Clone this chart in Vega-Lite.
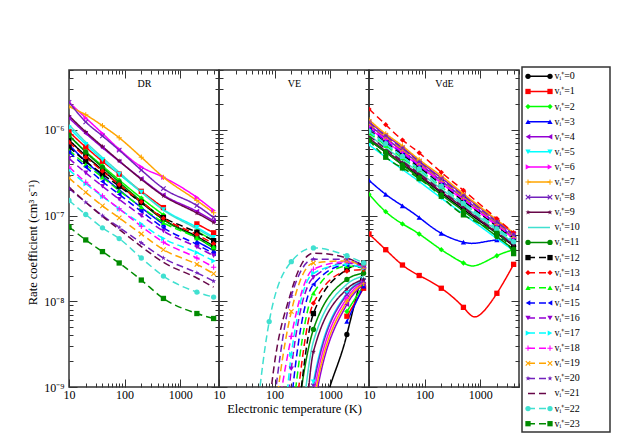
{
"$schema": "https://vega.github.io/schema/vega-lite/v6.json",
"padding": {"left": 26, "top": 66, "right": 5, "bottom": 5},
"background": "white",
"spacing": 0,
"config": {
  "view": {"stroke": "#333", "strokeWidth": 1.5},
  "font": "Liberation Serif",
  "axis": {"domain": false, "grid": false, "tickColor": "#333", "tickWidth": 1, "labelFont": "Liberation Serif", "titleFont": "Liberation Serif", "labelColor": "#000", "titleColor": "#000", "titleFontWeight": "normal", "labelFlush": false, "labelOverlap": false}
},
"datasets": {
"k": [
{"v":0,"T":10,"dr":7.6e-7,"ve":1e-22,"vde":7.6e-7},{"v":0,"T":20,"dr":5.0e-7,"ve":1e-20,"vde":5.5e-7},{"v":0,"T":40,"dr":3.4e-7,"ve":1e-18,"vde":3.95e-7},{"v":0,"T":80,"dr":2.3e-7,"ve":1e-16,"vde":2.9e-7},{"v":0,"T":200,"dr":1.42e-7,"ve":1e-14,"vde":1.84e-7},{"v":0,"T":500,"dr":9.0e-8,"ve":1e-10,"vde":1.18e-7},{"v":0,"T":2000,"dr":5.7e-8,"ve":4.1e-9,"vde":6.2e-8},{"v":0,"T":4000,"dr":4.4e-8,"ve":2.45e-8,"vde":4.4e-8},
{"v":1,"T":10,"dr":9.5e-7,"ve":1e-22,"vde":6.1e-8},{"v":1,"T":20,"dr":6.3e-7,"ve":1e-20,"vde":4.0e-8},{"v":1,"T":40,"dr":4.3e-7,"ve":1e-18,"vde":2.65e-8},{"v":1,"T":80,"dr":3.05e-7,"ve":1e-16,"vde":2.0e-8},{"v":1,"T":200,"dr":1.92e-7,"ve":1e-14,"vde":1.42e-8},{"v":1,"T":500,"dr":1.24e-7,"ve":1.9e-10,"vde":8.5e-9},{"v":1,"T":900,"vde":6.7e-9},{"v":1,"T":2000,"dr":8.0e-8,"ve":6.7e-9,"vde":1.24e-8},{"v":1,"T":4000,"dr":6.3e-8,"ve":1.42e-8,"vde":2.7e-8},
{"v":2,"T":10,"dr":8.5e-7,"ve":1e-21,"vde":1.77e-7},{"v":2,"T":20,"dr":5.6e-7,"ve":1e-19,"vde":1.11e-7},{"v":2,"T":40,"dr":3.8e-7,"ve":1e-17,"vde":8.0e-8},{"v":2,"T":80,"dr":2.6e-7,"ve":1e-15,"vde":6.1e-8},{"v":2,"T":200,"dr":1.6e-7,"ve":1e-13,"vde":4.0e-8},{"v":2,"T":500,"dr":1.02e-7,"ve":3.8e-10,"vde":2.8e-8},{"v":2,"T":900,"vde":2.65e-8},{"v":2,"T":2000,"dr":6.6e-8,"ve":7.6e-9,"vde":3.4e-8},{"v":2,"T":4000,"dr":5.1e-8,"ve":1.54e-8,"vde":4.0e-8},
{"v":3,"T":10,"dr":6.7e-7,"ve":1e-21,"vde":2.58e-7},{"v":3,"T":20,"dr":4.3e-7,"ve":1e-19,"vde":1.77e-7},{"v":3,"T":40,"dr":2.9e-7,"ve":1e-17,"vde":1.3e-7},{"v":3,"T":80,"dr":2.0e-7,"ve":1e-15,"vde":9.5e-8},{"v":3,"T":200,"dr":1.24e-7,"ve":1e-13,"vde":6.2e-8},{"v":3,"T":500,"dr":7.9e-8,"ve":2.5e-10,"vde":4.9e-8},{"v":3,"T":900,"vde":4.8e-8},{"v":3,"T":2000,"dr":5.0e-8,"ve":5.8e-9,"vde":5.2e-8},{"v":3,"T":4000,"dr":3.9e-8,"ve":1.5e-8,"vde":5.2e-8},
{"v":4,"T":10,"dr":1.38e-6,"ve":1e-21,"vde":1.24e-6},{"v":4,"T":20,"dr":9.1e-7,"ve":1e-19,"vde":8.7e-7},{"v":4,"T":40,"dr":6.2e-7,"ve":1e-17,"vde":6.2e-7},{"v":4,"T":80,"dr":4.3e-7,"ve":1e-15,"vde":4.35e-7},{"v":4,"T":200,"dr":2.7e-7,"ve":1e-13,"vde":2.75e-7},{"v":4,"T":500,"dr":1.74e-7,"ve":5.0e-10,"vde":1.75e-7},{"v":4,"T":2000,"dr":1.12e-7,"ve":9.2e-9,"vde":8.7e-8},{"v":4,"T":4000,"dr":8.7e-8,"ve":1.58e-8,"vde":6.2e-8},
{"v":5,"T":10,"dr":1.06e-6,"ve":1e-20,"vde":6.7e-7},{"v":5,"T":20,"dr":6.8e-7,"ve":1e-18,"vde":4.8e-7},{"v":5,"T":40,"dr":4.5e-7,"ve":1e-16,"vde":3.45e-7},{"v":5,"T":80,"dr":3.05e-7,"ve":1e-14,"vde":2.5e-7},{"v":5,"T":200,"dr":1.88e-7,"ve":1e-12,"vde":1.6e-7},{"v":5,"T":500,"dr":1.18e-7,"ve":1.15e-9,"vde":1.04e-7},{"v":5,"T":2000,"dr":7.3e-8,"ve":1.24e-8,"vde":5.4e-8},{"v":5,"T":4000,"dr":5.6e-8,"ve":1.77e-8,"vde":3.9e-8},
{"v":6,"T":10,"dr":2.1e-6,"ve":1e-21,"vde":1.06e-6},{"v":6,"T":20,"dr":1.38e-6,"ve":1e-19,"vde":7.4e-7},{"v":6,"T":40,"dr":9.1e-7,"ve":1e-17,"vde":5.3e-7},{"v":6,"T":80,"dr":5.95e-7,"ve":1e-15,"vde":3.8e-7},{"v":6,"T":200,"dr":3.7e-7,"ve":1e-13,"vde":2.4e-7},{"v":6,"T":500,"dr":2.8e-7,"ve":7.9e-10,"vde":1.5e-7},{"v":6,"T":2000,"dr":1.63e-7,"ve":1.09e-8,"vde":7.6e-8},{"v":6,"T":4000,"dr":1.15e-7,"ve":1.67e-8,"vde":5.4e-8},
{"v":7,"T":10,"dr":1.87e-6,"ve":1e-21,"vde":1.31e-6},{"v":7,"T":20,"dr":1.5e-6,"ve":1e-19,"vde":9.0e-7},{"v":7,"T":40,"dr":1.12e-6,"ve":1e-17,"vde":6.5e-7},{"v":7,"T":80,"dr":8.1e-7,"ve":1e-15,"vde":4.5e-7},{"v":7,"T":200,"dr":4.8e-7,"ve":1e-13,"vde":2.9e-7},{"v":7,"T":500,"dr":2.8e-7,"ve":6.2e-10,"vde":1.8e-7},{"v":7,"T":2000,"dr":1.5e-7,"ve":1.0e-8,"vde":8.9e-8},{"v":7,"T":4000,"dr":1.08e-7,"ve":1.62e-8,"vde":6.3e-8},
{"v":8,"T":10,"dr":2.1e-6,"ve":1e-20,"vde":1.15e-6},{"v":8,"T":20,"dr":1.24e-6,"ve":1e-18,"vde":8.0e-7},{"v":8,"T":40,"dr":8.5e-7,"ve":1e-16,"vde":5.7e-7},{"v":8,"T":80,"dr":5.8e-7,"ve":1e-14,"vde":4.05e-7},{"v":8,"T":200,"dr":3.4e-7,"ve":1e-12,"vde":2.55e-7},{"v":8,"T":500,"dr":2.07e-7,"ve":1.03e-9,"vde":1.6e-7},{"v":8,"T":2000,"dr":1.31e-7,"ve":1.2e-8,"vde":8.0e-8},{"v":8,"T":4000,"dr":9.5e-8,"ve":1.72e-8,"vde":5.6e-8},
{"v":9,"T":10,"dr":1.46e-6,"ve":1e-20,"vde":8.0e-7},{"v":9,"T":20,"dr":9.5e-7,"ve":1e-18,"vde":5.7e-7},{"v":9,"T":40,"dr":6.4e-7,"ve":1e-16,"vde":4.15e-7},{"v":9,"T":80,"dr":4.35e-7,"ve":1e-14,"vde":2.98e-7},{"v":9,"T":200,"dr":2.65e-7,"ve":1e-12,"vde":1.9e-7},{"v":9,"T":500,"dr":1.7e-7,"ve":2.58e-9,"vde":1.24e-7},{"v":9,"T":2000,"dr":1.07e-7,"ve":1.39e-8,"vde":6.3e-8},{"v":9,"T":4000,"dr":8.3e-8,"ve":1.8e-8,"vde":4.6e-8},
{"v":10,"T":10,"dr":1.15e-6,"ve":1e-20,"vde":8.7e-7},{"v":10,"T":20,"dr":7.2e-7,"ve":1e-18,"vde":6.2e-7},{"v":10,"T":40,"dr":4.75e-7,"ve":1e-16,"vde":4.45e-7},{"v":10,"T":80,"dr":3.2e-7,"ve":1e-14,"vde":3.2e-7},{"v":10,"T":200,"dr":1.88e-7,"ve":1.6e-11,"vde":2.05e-7},{"v":10,"T":500,"dr":1.16e-7,"ve":3.4e-9,"vde":1.31e-7},{"v":10,"T":2000,"dr":7.0e-8,"ve":1.58e-8,"vde":6.7e-8},{"v":10,"T":4000,"dr":5.4e-8,"ve":1.97e-8,"vde":4.8e-8},
{"v":11,"T":10,"dr":8.7e-7,"ve":1e-19,"vde":7.6e-7},{"v":11,"T":20,"dr":5.5e-7,"ve":1e-17,"vde":5.5e-7},{"v":11,"T":40,"dr":3.65e-7,"ve":1e-15,"vde":3.9e-7},{"v":11,"T":80,"dr":2.45e-7,"ve":1e-13,"vde":2.78e-7},{"v":11,"T":200,"dr":1.47e-7,"ve":1.1e-10,"vde":1.75e-7},{"v":11,"T":500,"dr":9.0e-8,"ve":4.7e-9,"vde":1.13e-7},{"v":11,"T":2000,"dr":5.5e-8,"ve":1.8e-8,"vde":5.7e-8},{"v":11,"T":4000,"dr":4.2e-8,"ve":2.13e-8,"vde":4.05e-8},
{"v":12,"T":10,"dr":6.3e-7,"ve":1e-20,"vde":1.0e-6},{"v":12,"T":20,"dr":4.3e-7,"ve":1e-18,"vde":7.1e-7},{"v":12,"T":40,"dr":3.05e-7,"ve":1e-16,"vde":5.1e-7},{"v":12,"T":80,"dr":2.2e-7,"ve":1e-14,"vde":3.65e-7},{"v":12,"T":200,"dr":1.42e-7,"ve":5.8e-11,"vde":2.3e-7},{"v":12,"T":500,"dr":9.5e-8,"ve":7.2e-9,"vde":1.48e-7},{"v":12,"T":2000,"dr":6.4e-8,"ve":2.35e-8,"vde":7.5e-8},{"v":12,"T":4000,"dr":5.1e-8,"ve":2.8e-8,"vde":5.4e-8},
{"v":13,"T":10,"dr":7.2e-7,"ve":1e-19,"vde":1.75e-6},{"v":13,"T":20,"dr":4.8e-7,"ve":1e-17,"vde":1.15e-6},{"v":13,"T":40,"dr":3.3e-7,"ve":1e-15,"vde":7.6e-7},{"v":13,"T":80,"dr":2.3e-7,"ve":1e-13,"vde":5.4e-7},{"v":13,"T":200,"dr":1.45e-7,"ve":1.55e-10,"vde":3.2e-7},{"v":13,"T":500,"dr":9.3e-8,"ve":9.5e-9,"vde":1.97e-7},{"v":13,"T":2000,"dr":6.0e-8,"ve":2.25e-8,"vde":9.2e-8},{"v":13,"T":4000,"dr":4.7e-8,"ve":2.35e-8,"vde":6.3e-8},
{"v":14,"T":10,"dr":5.8e-7,"ve":1e-19,"vde":9.2e-7},{"v":14,"T":20,"dr":3.95e-7,"ve":1e-17,"vde":6.6e-7},{"v":14,"T":40,"dr":2.8e-7,"ve":1e-15,"vde":4.7e-7},{"v":14,"T":80,"dr":1.95e-7,"ve":1e-13,"vde":3.4e-7},{"v":14,"T":200,"dr":1.26e-7,"ve":3.2e-10,"vde":2.17e-7},{"v":14,"T":500,"dr":8.3e-8,"ve":1.24e-8,"vde":1.39e-7},{"v":14,"T":2000,"dr":5.5e-8,"ve":2.58e-8,"vde":7.1e-8},{"v":14,"T":4000,"dr":4.3e-8,"ve":2.45e-8,"vde":5.1e-8},
{"v":15,"T":10,"dr":5.5e-7,"ve":1e-19,"vde":1.06e-6},{"v":15,"T":20,"dr":3.7e-7,"ve":1e-17,"vde":7.5e-7},{"v":15,"T":40,"dr":2.5e-7,"ve":1e-15,"vde":5.4e-7},{"v":15,"T":80,"dr":1.77e-7,"ve":1e-13,"vde":3.85e-7},{"v":15,"T":200,"dr":1.12e-7,"ve":6.5e-10,"vde":2.45e-7},{"v":15,"T":500,"dr":7.2e-8,"ve":1.58e-8,"vde":1.56e-7},{"v":15,"T":2000,"dr":4.6e-8,"ve":2.65e-8,"vde":7.9e-8},{"v":15,"T":4000,"dr":3.6e-8,"ve":2.45e-8,"vde":5.6e-8},
{"v":16,"T":10,"dr":4.65e-7,"ve":1e-18,"vde":1.12e-6},{"v":16,"T":20,"dr":3.15e-7,"ve":1e-16,"vde":7.9e-7},{"v":16,"T":40,"dr":2.2e-7,"ve":1e-14,"vde":5.7e-7},{"v":16,"T":80,"dr":1.55e-7,"ve":3.2e-13,"vde":4.05e-7},{"v":16,"T":200,"dr":1.0e-7,"ve":1.63e-9,"vde":2.58e-7},{"v":16,"T":500,"dr":6.6e-8,"ve":1.9e-8,"vde":1.65e-7},{"v":16,"T":2000,"dr":4.3e-8,"ve":2.8e-8,"vde":8.3e-8},{"v":16,"T":4000,"dr":3.4e-8,"ve":2.5e-8,"vde":5.95e-8},
{"v":17,"T":10,"dr":3.4e-7,"ve":1e-18,"vde":9.5e-7},{"v":17,"T":20,"dr":2.35e-7,"ve":1e-16,"vde":6.8e-7},{"v":17,"T":40,"dr":1.67e-7,"ve":1e-14,"vde":4.85e-7},{"v":17,"T":80,"dr":1.2e-7,"ve":1e-12,"vde":3.45e-7},{"v":17,"T":200,"dr":8.0e-8,"ve":2.4e-9,"vde":2.2e-7},{"v":17,"T":500,"dr":5.4e-8,"ve":2.13e-8,"vde":1.4e-7},{"v":17,"T":2000,"dr":3.7e-8,"ve":2.7e-8,"vde":7.1e-8},{"v":17,"T":4000,"dr":2.96e-8,"ve":2.45e-8,"vde":5.1e-8},
{"v":18,"T":10,"dr":3.7e-7,"ve":1e-17,"vde":1.09e-6},{"v":18,"T":20,"dr":2.45e-7,"ve":1e-15,"vde":7.7e-7},{"v":18,"T":40,"dr":1.7e-7,"ve":1e-13,"vde":5.5e-7},{"v":18,"T":80,"dr":1.2e-7,"ve":5.6e-11,"vde":3.9e-7},{"v":18,"T":200,"dr":7.5e-8,"ve":3.9e-9,"vde":2.45e-7},{"v":18,"T":500,"dr":4.9e-8,"ve":2.37e-8,"vde":1.55e-7},{"v":18,"T":2000,"dr":3.2e-8,"ve":2.9e-8,"vde":7.8e-8},{"v":18,"T":4000,"dr":2.5e-8,"ve":2.5e-8,"vde":5.5e-8},
{"v":19,"T":10,"dr":2.75e-7,"ve":1e-17,"vde":1.18e-6},{"v":19,"T":20,"dr":1.87e-7,"ve":1e-15,"vde":8.3e-7},{"v":19,"T":40,"dr":1.3e-7,"ve":1e-13,"vde":5.9e-7},{"v":19,"T":80,"dr":9.4e-8,"ve":8.7e-11,"vde":4.15e-7},{"v":19,"T":200,"dr":6.1e-8,"ve":7.6e-9,"vde":2.6e-7},{"v":19,"T":500,"dr":4.0e-8,"ve":2.8e-8,"vde":1.65e-7},{"v":19,"T":2000,"dr":2.7e-8,"ve":2.96e-8,"vde":8.2e-8},{"v":19,"T":4000,"dr":2.1e-8,"ve":2.5e-8,"vde":5.8e-8},
{"v":20,"T":10,"dr":2.07e-7,"ve":1e-16,"vde":1.22e-6},{"v":20,"T":20,"dr":1.43e-7,"ve":1e-14,"vde":8.5e-7},{"v":20,"T":40,"dr":1.0e-7,"ve":1e-12,"vde":6.1e-7},{"v":20,"T":80,"dr":7.3e-8,"ve":1.9e-10,"vde":4.25e-7},{"v":20,"T":200,"dr":4.8e-8,"ve":1.15e-8,"vde":2.67e-7},{"v":20,"T":500,"dr":3.2e-8,"ve":3.1e-8,"vde":1.7e-7},{"v":20,"T":2000,"dr":2.15e-8,"ve":3.1e-8,"vde":8.4e-8},{"v":20,"T":4000,"dr":1.72e-8,"ve":2.58e-8,"vde":5.95e-8},
{"v":21,"T":10,"dr":2.15e-7,"ve":1e-16,"vde":8.5e-7},{"v":21,"T":20,"dr":1.43e-7,"ve":1e-14,"vde":6.0e-7},{"v":21,"T":40,"dr":9.8e-8,"ve":1e-12,"vde":4.3e-7},{"v":21,"T":80,"dr":6.9e-8,"ve":5.6e-10,"vde":3.1e-7},{"v":21,"T":200,"dr":4.35e-8,"ve":1.31e-8,"vde":1.97e-7},{"v":21,"T":500,"dr":2.85e-8,"ve":3.65e-8,"vde":1.26e-7},{"v":21,"T":2000,"dr":1.87e-8,"ve":3.2e-8,"vde":6.4e-8},{"v":21,"T":4000,"dr":1.46e-8,"ve":2.58e-8,"vde":4.6e-8},
{"v":22,"T":10,"dr":1.5e-7,"ve":1e-15,"vde":9.7e-7},{"v":22,"T":20,"dr":1.03e-7,"ve":1e-12,"vde":6.9e-7},{"v":22,"T":40,"dr":7.2e-8,"ve":1.55e-10,"vde":4.9e-7},{"v":22,"T":80,"dr":5.4e-8,"ve":5.8e-9,"vde":3.5e-7},{"v":22,"T":200,"dr":3.2e-8,"ve":2.9e-8,"vde":2.2e-7},{"v":22,"T":500,"dr":1.97e-8,"ve":4.2e-8,"vde":1.39e-7},{"v":22,"T":2000,"dr":1.28e-8,"ve":3.4e-8,"vde":7.0e-8},{"v":22,"T":4000,"dr":1.12e-8,"ve":2.8e-8,"vde":4.95e-8},
{"v":23,"T":10,"dr":7.4e-8,"ve":1e-15,"vde":7.6e-7},{"v":23,"T":20,"dr":5.2e-8,"ve":1e-15,"vde":4.8e-7},{"v":23,"T":40,"dr":3.8e-8,"ve":1e-15,"vde":3.6e-7},{"v":23,"T":80,"dr":2.8e-8,"ve":1e-15,"vde":2.7e-7},{"v":23,"T":200,"dr":1.77e-8,"ve":1e-15,"vde":1.68e-7},{"v":23,"T":500,"dr":1.08e-8,"ve":1e-15,"vde":1.02e-7},{"v":23,"T":2000,"dr":7.2e-9,"ve":1e-15,"vde":6.2e-8},{"v":23,"T":4000,"dr":6.3e-9,"ve":1e-15,"vde":3.6e-8}
],
"leg": [
{"v":0,"label":"vᵢ⁺=0"},{"v":1,"label":"vᵢ⁺=1"},{"v":2,"label":"vᵢ⁺=2"},{"v":3,"label":"vᵢ⁺=3"},{"v":4,"label":"vᵢ⁺=4"},{"v":5,"label":"vᵢ⁺=5"},{"v":6,"label":"vᵢ⁺=6"},{"v":7,"label":"vᵢ⁺=7"},{"v":8,"label":"vᵢ⁺=8"},{"v":9,"label":"vᵢ⁺=9"},{"v":10,"label":"vᵢ⁺=10"},{"v":11,"label":"vᵢ⁺=11"},{"v":12,"label":"vᵢ⁺=12"},{"v":13,"label":"vᵢ⁺=13"},{"v":14,"label":"vᵢ⁺=14"},{"v":15,"label":"vᵢ⁺=15"},{"v":16,"label":"vᵢ⁺=16"},{"v":17,"label":"vᵢ⁺=17"},{"v":18,"label":"vᵢ⁺=18"},{"v":19,"label":"vᵢ⁺=19"},{"v":20,"label":"vᵢ⁺=20"},{"v":21,"label":"vᵢ⁺=21"},{"v":22,"label":"vᵢ⁺=22"},{"v":23,"label":"vᵢ⁺=23"}
]
},
"hconcat": [
{
"spacing": 0,
"vconcat": [
{"width": 450, "height": 1, "view": {"stroke": null}, "data": {"values": [{}]}, "mark": {"type": "point", "size": 0, "opacity": 0, "strokeWidth": 0}},
{
"bounds": "flush",
"spacing": 0,
"hconcat": [
{
"width": 150, "height": 317,
"data": {"name": "k"},
"resolve": {"axis": {"x": "independent", "y": "independent"}},
"layer": [
{"mark": {"type": "line", "strokeWidth": 1.5, "clip": true, "interpolate": "monotone"},
 "encoding": {
  "x": {"field": "T", "type": "quantitative", "scale": {"type": "log", "domain": [10, 5000], "nice": false}, "axis": {"orient": "bottom", "values": [10, 100, 1000], "format": "d", "tickSize": -8, "labelPadding": 10, "labelFontSize": 12, "title": null}},
  "y": {"field": "dr", "type": "quantitative", "scale": {"type": "log", "domain": [1e-9, 5e-6], "nice": false}, "axis": {"orient": "left", "values": [1e-9, 1e-8, 1e-7, 1e-6], "labelExpr": "datum.value < 5e-9 ? '10⁻⁹' : datum.value < 5e-8 ? '10⁻⁸' : datum.value < 5e-7 ? '10⁻⁷' : '10⁻⁶'", "tickSize": -8, "labelPadding": 13, "labelFontSize": 12, "title": "Rate coefficient (cm³ s⁻¹)", "titleFontSize": 12.5, "titlePadding": 4, "titleY": 172}},
  "color": {"field": "v", "type": "nominal", "legend": null, "scale": {"domain": [0,1,2,3,4,5,6,7,8,9,10,11,12,13,14,15,16,17,18,19,20,21,22,23], "range": ["#000000","#ff0000","#00ff00","#0000ff","#9400d3","#00ffff","#ff00ff","#ffa500","#7221bc","#670748","#40e0d0","#008b00","#000000","#ff0000","#00ff00","#0000ff","#9400d3","#00ffff","#ff00ff","#ffa500","#7221bc","#670748","#40e0d0","#008b00"]}},
  "strokeDash": {"field": "v", "type": "nominal", "legend": null, "scale": {"domain": [0,1,2,3,4,5,6,7,8,9,10,11,12,13,14,15,16,17,18,19,20,21,22,23], "range": [[1,0],[1,0],[1,0],[1,0],[1,0],[1,0],[1,0],[1,0],[1,0],[1,0],[1,0],[1,0],[7,4],[7,4],[7,4],[7,4],[7,4],[7,4],[7,4],[7,4],[7,4],[7,4],[7,4],[7,4]]}}
 }},
{"transform": [{"filter": "datum.v != 10 && datum.v != 21 && datum.T != 900"}],
 "mark": {"type": "point", "filled": true, "size": 28, "opacity": 1, "clip": true},
 "encoding": {
  "x": {"field": "T", "type": "quantitative", "axis": {"orient": "top", "values": [10, 100, 1000], "labels": false, "tickSize": -8, "title": "DR", "titlePadding": -19, "titleFontSize": 10}},
  "y": {"field": "dr", "type": "quantitative", "axis": {"orient": "right", "values": [1e-9, 1e-8, 1e-7, 1e-6], "labels": false, "tickSize": -8, "title": null}},
  "color": {"field": "v", "type": "nominal", "legend": null},
  "shape": {"field": "v", "type": "nominal", "legend": null, "scale": {"domain": [0,1,2,3,4,5,6,7,8,9,10,11,12,13,14,15,16,17,18,19,20,21,22,23], "range": ["circle","square","diamond","triangle-up","triangle-left","triangle-down","triangle-right","M-1,-0.2H-0.2V-1H0.2V-0.2H1V0.2H0.2V1H-0.2V0.2H-1Z","M-1,-0.7L-0.7,-1L0,-0.3L0.7,-1L1,-0.7L0.3,0L1,0.7L0.7,1L0,0.3L-0.7,1L-1,0.7L-0.3,0Z","M0,-1L0.24,-0.33L0.95,-0.31L0.38,0.12L0.59,0.81L0,0.4L-0.59,0.81L-0.38,0.12L-0.95,-0.31L-0.24,-0.33Z","circle","circle","square","diamond","triangle-up","triangle-left","triangle-down","triangle-right","M-1,-0.2H-0.2V-1H0.2V-0.2H1V0.2H0.2V1H-0.2V0.2H-1Z","M-1,-0.7L-0.7,-1L0,-0.3L0.7,-1L1,-0.7L0.3,0L1,0.7L0.7,1L0,0.3L-0.7,1L-1,0.7L-0.3,0Z","M0,-1L0.24,-0.33L0.95,-0.31L0.38,0.12L0.59,0.81L0,0.4L-0.59,0.81L-0.38,0.12L-0.95,-0.31L-0.24,-0.33Z","circle","circle","square"]}}
 }},
{"mark": {"type": "point", "opacity": 0},
 "encoding": {
  "x": {"field": "T", "type": "quantitative", "axis": {"orient": "bottom", "values": [20,30,40,50,60,70,80,90,200,300,400,500,600,700,800,900,2000,3000,4000,5000], "labels": false, "tickSize": -4, "title": null}},
  "y": {"field": "dr", "type": "quantitative", "axis": {"orient": "left", "values": [2e-9,3e-9,4e-9,5e-9,6e-9,7e-9,8e-9,9e-9,2e-8,3e-8,4e-8,5e-8,6e-8,7e-8,8e-8,9e-8,2e-7,3e-7,4e-7,5e-7,6e-7,7e-7,8e-7,9e-7,2e-6,3e-6,4e-6,5e-6], "labels": false, "tickSize": -4, "title": null}}
 }},
{"mark": {"type": "point", "opacity": 0},
 "encoding": {
  "x": {"field": "T", "type": "quantitative", "axis": {"orient": "top", "values": [20,30,40,50,60,70,80,90,200,300,400,500,600,700,800,900,2000,3000,4000,5000], "labels": false, "tickSize": -4, "title": null}},
  "y": {"field": "dr", "type": "quantitative", "axis": {"orient": "right", "values": [2e-9,3e-9,4e-9,5e-9,6e-9,7e-9,8e-9,9e-9,2e-8,3e-8,4e-8,5e-8,6e-8,7e-8,8e-8,9e-8,2e-7,3e-7,4e-7,5e-7,6e-7,7e-7,8e-7,9e-7,2e-6,3e-6,4e-6,5e-6], "labels": false, "tickSize": -4, "title": null}}
 }}
]
},
{
"width": 150, "height": 317,
"data": {"name": "k"},
"resolve": {"axis": {"x": "independent", "y": "independent"}},
"layer": [
{"mark": {"type": "line", "strokeWidth": 1.5, "clip": true, "interpolate": "monotone"},
 "encoding": {
  "x": {"field": "T", "type": "quantitative", "scale": {"type": "log", "domain": [10, 5000], "nice": false}, "axis": {"orient": "bottom", "values": [10, 100, 1000], "format": "d", "tickSize": -8, "labelPadding": 10, "labelFontSize": 12, "title": "Electronic temperature (K)", "titleFontSize": 12.5, "titlePadding": 2}},
  "y": {"field": "ve", "type": "quantitative", "scale": {"type": "log", "domain": [1e-9, 5e-6], "nice": false}, "axis": {"orient": "left", "values": [1e-9, 1e-8, 1e-7, 1e-6], "labels": false, "tickSize": -8, "title": null}},
  "color": {"field": "v", "type": "nominal", "legend": null},
  "strokeDash": {"field": "v", "type": "nominal", "legend": null}
 }},
{"transform": [{"filter": "datum.v != 10 && datum.v != 21 && datum.T != 900"}],
 "mark": {"type": "point", "filled": true, "size": 28, "opacity": 1, "clip": true},
 "encoding": {
  "x": {"field": "T", "type": "quantitative", "axis": {"orient": "top", "values": [10, 100, 1000], "labels": false, "tickSize": -8, "title": "VE", "titlePadding": -19, "titleFontSize": 10}},
  "y": {"field": "ve", "type": "quantitative", "axis": {"orient": "right", "values": [1e-9, 1e-8, 1e-7, 1e-6], "labels": false, "tickSize": -8, "title": null}},
  "color": {"field": "v", "type": "nominal", "legend": null},
  "shape": {"field": "v", "type": "nominal", "legend": null}
 }},
{"mark": {"type": "point", "opacity": 0},
 "encoding": {
  "x": {"field": "T", "type": "quantitative", "axis": {"orient": "bottom", "values": [20,30,40,50,60,70,80,90,200,300,400,500,600,700,800,900,2000,3000,4000,5000], "labels": false, "tickSize": -4, "title": null}},
  "y": {"field": "ve", "type": "quantitative", "axis": {"orient": "left", "values": [2e-9,3e-9,4e-9,5e-9,6e-9,7e-9,8e-9,9e-9,2e-8,3e-8,4e-8,5e-8,6e-8,7e-8,8e-8,9e-8,2e-7,3e-7,4e-7,5e-7,6e-7,7e-7,8e-7,9e-7,2e-6,3e-6,4e-6,5e-6], "labels": false, "tickSize": -4, "title": null}}
 }},
{"mark": {"type": "point", "opacity": 0},
 "encoding": {
  "x": {"field": "T", "type": "quantitative", "axis": {"orient": "top", "values": [20,30,40,50,60,70,80,90,200,300,400,500,600,700,800,900,2000,3000,4000,5000], "labels": false, "tickSize": -4, "title": null}},
  "y": {"field": "ve", "type": "quantitative", "axis": {"orient": "right", "values": [2e-9,3e-9,4e-9,5e-9,6e-9,7e-9,8e-9,9e-9,2e-8,3e-8,4e-8,5e-8,6e-8,7e-8,8e-8,9e-8,2e-7,3e-7,4e-7,5e-7,6e-7,7e-7,8e-7,9e-7,2e-6,3e-6,4e-6,5e-6], "labels": false, "tickSize": -4, "title": null}}
 }}
]
},
{
"width": 150, "height": 317,
"data": {"name": "k"},
"resolve": {"axis": {"x": "independent", "y": "independent"}},
"layer": [
{"mark": {"type": "line", "strokeWidth": 1.5, "clip": true, "interpolate": "natural"},
 "encoding": {
  "x": {"field": "T", "type": "quantitative", "scale": {"type": "log", "domain": [10, 5000], "nice": false}, "axis": {"orient": "bottom", "values": [10, 100, 1000], "format": "d", "tickSize": -8, "labelPadding": 10, "labelFontSize": 12, "title": null}},
  "y": {"field": "vde", "type": "quantitative", "scale": {"type": "log", "domain": [1e-9, 5e-6], "nice": false}, "axis": {"orient": "left", "values": [1e-9, 1e-8, 1e-7, 1e-6], "labels": false, "tickSize": -8, "title": null}},
  "color": {"field": "v", "type": "nominal", "legend": null},
  "strokeDash": {"field": "v", "type": "nominal", "legend": null}
 }},
{"transform": [{"filter": "datum.v != 10 && datum.v != 21 && datum.T != 900"}],
 "mark": {"type": "point", "filled": true, "size": 28, "opacity": 1, "clip": true},
 "encoding": {
  "x": {"field": "T", "type": "quantitative", "axis": {"orient": "top", "values": [10, 100, 1000], "labels": false, "tickSize": -8, "title": "VdE", "titlePadding": -19, "titleFontSize": 10}},
  "y": {"field": "vde", "type": "quantitative", "axis": {"orient": "right", "values": [1e-9, 1e-8, 1e-7, 1e-6], "labels": false, "tickSize": -8, "title": null}},
  "color": {"field": "v", "type": "nominal", "legend": null},
  "shape": {"field": "v", "type": "nominal", "legend": null}
 }},
{"mark": {"type": "point", "opacity": 0},
 "encoding": {
  "x": {"field": "T", "type": "quantitative", "axis": {"orient": "bottom", "values": [20,30,40,50,60,70,80,90,200,300,400,500,600,700,800,900,2000,3000,4000,5000], "labels": false, "tickSize": -4, "title": null}},
  "y": {"field": "vde", "type": "quantitative", "axis": {"orient": "left", "values": [2e-9,3e-9,4e-9,5e-9,6e-9,7e-9,8e-9,9e-9,2e-8,3e-8,4e-8,5e-8,6e-8,7e-8,8e-8,9e-8,2e-7,3e-7,4e-7,5e-7,6e-7,7e-7,8e-7,9e-7,2e-6,3e-6,4e-6,5e-6], "labels": false, "tickSize": -4, "title": null}}
 }},
{"mark": {"type": "point", "opacity": 0},
 "encoding": {
  "x": {"field": "T", "type": "quantitative", "axis": {"orient": "top", "values": [20,30,40,50,60,70,80,90,200,300,400,500,600,700,800,900,2000,3000,4000,5000], "labels": false, "tickSize": -4, "title": null}},
  "y": {"field": "vde", "type": "quantitative", "axis": {"orient": "right", "values": [2e-9,3e-9,4e-9,5e-9,6e-9,7e-9,8e-9,9e-9,2e-8,3e-8,4e-8,5e-8,6e-8,7e-8,8e-8,9e-8,2e-7,3e-7,4e-7,5e-7,6e-7,7e-7,8e-7,9e-7,2e-6,3e-6,4e-6,5e-6], "labels": false, "tickSize": -4, "title": null}}
 }}
]
}
]
}
]
},
{
"width": 88, "height": 365,
"data": {"name": "leg"},
"layer": [
{"mark": {"type": "rule", "strokeWidth": 1.5},
 "encoding": {
  "x": {"datum": 6, "type": "quantitative", "scale": {"domain": [0, 88], "nice": false, "zero": false}, "axis": null},
  "x2": {"datum": 28},
  "y": {"field": "v", "type": "quantitative", "scale": {"domain": [-0.62, 23.55], "reverse": true, "nice": false, "zero": false}, "axis": null},
  "color": {"field": "v", "type": "nominal", "legend": null},
  "strokeDash": {"field": "v", "type": "nominal", "legend": null}
 }},
{"transform": [{"filter": "datum.v != 10 && datum.v != 21"}],
 "mark": {"type": "point", "filled": true, "size": 28, "opacity": 1},
 "encoding": {
  "x": {"datum": 6, "type": "quantitative"},
  "y": {"field": "v", "type": "quantitative"},
  "color": {"field": "v", "type": "nominal", "legend": null},
  "shape": {"field": "v", "type": "nominal", "legend": null}
 }},
{"transform": [{"filter": "datum.v != 10 && datum.v != 21"}],
 "mark": {"type": "point", "filled": true, "size": 28, "opacity": 1},
 "encoding": {
  "x": {"datum": 28, "type": "quantitative"},
  "y": {"field": "v", "type": "quantitative"},
  "color": {"field": "v", "type": "nominal", "legend": null},
  "shape": {"field": "v", "type": "nominal", "legend": null}
 }},
{"mark": {"type": "text", "align": "left", "baseline": "middle", "fontSize": 10, "font": "Liberation Serif", "color": "#000"},
 "encoding": {
  "x": {"datum": 32.5, "type": "quantitative"},
  "y": {"field": "v", "type": "quantitative"},
  "text": {"field": "label"}
 }}
]
}
]
}
